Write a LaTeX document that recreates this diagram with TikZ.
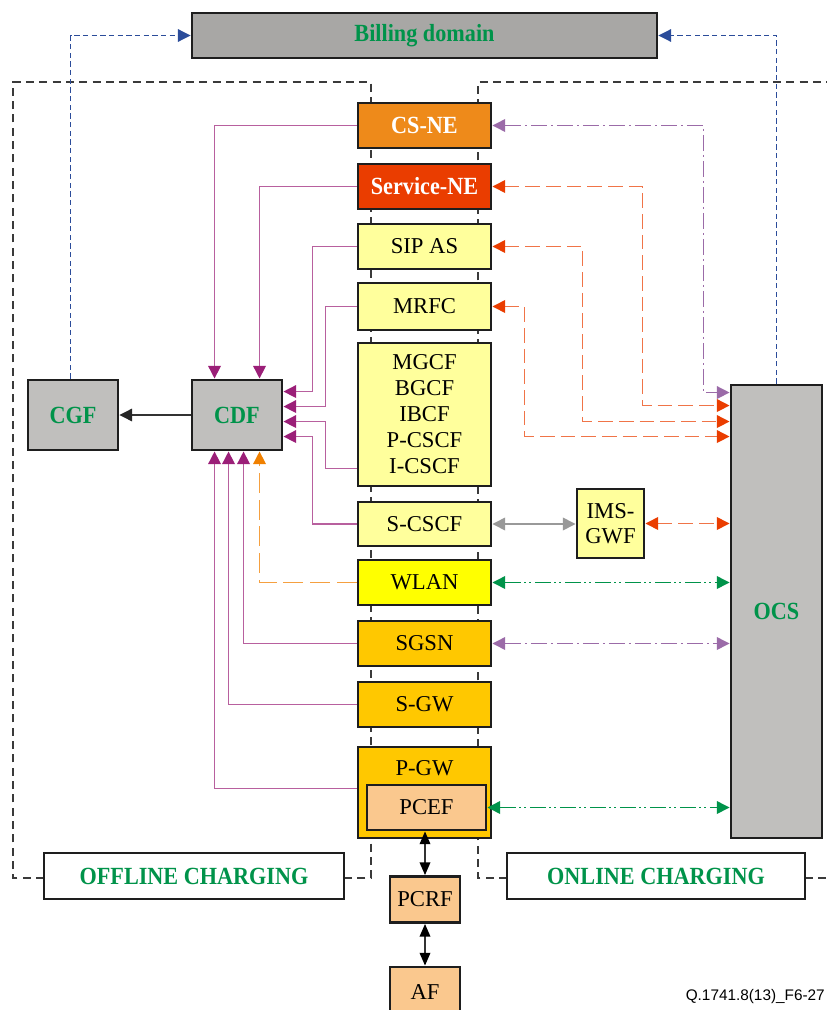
\documentclass[tikz,border=0pt]{standalone}
\usepackage{fontspec}
\setmainfont{Liberation Serif}
\newfontfamily\capsans{Liberation Sans}
\newfontfamily\bcond[FakeStretch=0.9]{Liberation Serif}
\usetikzlibrary{arrows.meta,calc}
\definecolor{gborder}{HTML}{1E1E1E}
\definecolor{billgray}{HTML}{A8A7A5}
\definecolor{boxgray}{HTML}{C0BFBD}
\definecolor{csneor}{HTML}{EE8A1A}
\definecolor{servred}{HTML}{EA3D00}
\definecolor{lyellow}{HTML}{FFFF9C}
\definecolor{yellowb}{HTML}{FFFF00}
\definecolor{goldb}{HTML}{FFC800}
\definecolor{peach}{HTML}{FAC88E}
\definecolor{tgreen}{HTML}{00934A}
\definecolor{cdfline}{HTML}{B8609E}
\definecolor{cdfhead}{HTML}{9B1F78}
\definecolor{ocspurple}{HTML}{9B6BA8}
\definecolor{redline}{HTML}{F07448}
\definecolor{redhead}{HTML}{EA3D00}
\definecolor{blueline}{HTML}{2B4C9A}
\definecolor{wlanline}{HTML}{F5A040}
\definecolor{wlanhead}{HTML}{F08000}
\definecolor{boundc}{HTML}{3A3A3A}
\definecolor{grayarr}{HTML}{999999}
\tikzset{
  box/.style={draw=gborder, line width=2.2pt, inner sep=0pt, align=center,
    font=\fontsize{17}{19.5}\selectfont},
  sz/.style 2 args={minimum width=#1*0.75pt, minimum height=#2*0.75pt},
  grntext/.style={text=tgreen, font=\bcond\bfseries\fontsize{18.5}{20}\selectfont},
  whtext/.style={text=white, font=\bcond\bfseries\fontsize{18.5}{20}\selectfont},
  cdfl/.style={draw=cdfline, line width=1.1pt, -{Triangle[length=9.5pt,width=9.5pt,color=cdfhead]}},
  wlanl/.style={draw=wlanline, line width=1.1pt, dash pattern=on 15pt off 5pt,
    -{Triangle[length=9.5pt,width=9.5pt,color=wlanhead]}},
  ocsp/.style={draw=ocspurple, line width=1pt, dash pattern=on 12pt off 3pt on 1.5pt off 3pt,
    {Triangle[length=9.5pt,width=9.5pt,color=ocspurple]}-{Triangle[length=9.5pt,width=9.5pt,color=ocspurple]}},
  ocsr/.style={draw=redline, line width=1.1pt, dash pattern=on 11pt off 4.5pt,
    {Triangle[length=9.5pt,width=9.5pt,color=redhead]}-{Triangle[length=9.5pt,width=9.5pt,color=redhead]}},
  ocsg/.style={draw=tgreen, line width=1pt, dash pattern=on 12pt off 2.5pt on 1.5pt off 2.5pt on 1.5pt off 2.5pt,
    {Triangle[length=9.5pt,width=9.5pt,color=tgreen]}-{Triangle[length=9.5pt,width=9.5pt,color=tgreen]}},
  bluel/.style={draw=blueline, line width=0.8pt, dash pattern=on 4pt off 2.5pt,
    -{Triangle[length=9.5pt,width=9.5pt,color=blueline]}},
  bound/.style={draw=boundc, line width=0.8pt, dash pattern=on 6pt off 4pt},
  grayl/.style={draw=grayarr, line width=1.1pt,
    {Triangle[length=9.5pt,width=9.5pt,color=grayarr]}-{Triangle[length=9.5pt,width=9.5pt,color=grayarr]}},
  blkl/.style={draw=black!80, line width=1pt,
    {Triangle[length=9.5pt,width=8pt,color=black]}-{Triangle[length=9.5pt,width=8pt,color=black]}},
}
\begin{document}
\begin{tikzpicture}[x=0.75pt,y=-0.75pt]
\useasboundingbox (0,0) rectangle (827,1010);
% region boundaries
\draw[bound] (44,878) -- (13,878) -- (13,82) -- (371,82) -- (371,878) -- (344,878);
\draw[bound] (507,878) -- (478,878) -- (478,82) -- (830,82);
\draw[bound] (805,878) -- (830,878);
% nodes
\node[box, fill=billgray, sz={465}{45}, grntext] (billing) at (424.5,35.5) {Billing domain};
\node[box, fill=csneor, sz={133}{45}, whtext] (csne) at (424.5,125.5) {CS-NE};
\node[box, fill=servred, sz={133}{45}, whtext] (servne) at (424.5,186.5) {Service-NE};
\node[box, fill=lyellow, sz={133}{45}] (sipas) at (424.5,246.5) {SIP AS};
\node[box, fill=lyellow, sz={133}{47}] (mrfc) at (424.5,306.5) {MRFC};
\node[box, fill=lyellow, sz={133}{143}] (mgcf) at (424.5,414.5) {MGCF\\BGCF\\IBCF\\P-CSCF\\I-CSCF};
\node[box, fill=lyellow, sz={133}{44}] (scscf) at (424.5,524) {S-CSCF};
\node[box, fill=yellowb, sz={133}{45}] (wlan) at (424.5,582.5) {WLAN};
\node[box, fill=goldb, sz={133}{45}] (sgsn) at (424.5,643.5) {SGSN};
\node[box, fill=goldb, sz={133}{45}] (sgw) at (424.5,704.5) {S-GW};
\node[box, fill=goldb, sz={133}{91}] (pgw) at (424.5,792.5) {};
\node[font=\fontsize{17}{19.5}\selectfont, inner sep=0pt] (pgwlab) at (424.5,768) {P-GW};
\node[box, fill=peach, sz={119}{45}] (pcef) at (426.5,807.5) {PCEF};
\node[box, fill=peach, sz={70}{46}] (pcrf) at (425,899.5) {PCRF};
\node[box, fill=peach, sz={70}{50}] (af) at (425,992) {AF};
\node[box, fill=boxgray, sz={90}{70}, grntext] (cdf) at (237,415) {CDF};
\node[box, fill=boxgray, sz={90}{70}, grntext] (cgf) at (73,415) {CGF};
\node[box, fill=boxgray, sz={91}{453}, grntext] (ocs) at (776.5,611.5) {OCS};
\node[box, fill=lyellow, sz={67}{69}, font=\fontsize{17}{18.75}\selectfont] (imsgwf) at (610.5,523.5) {IMS-\\GWF};
\node[box, fill=white, sz={300}{46}, grntext] (offline) at (194,876) {OFFLINE CHARGING};
\node[box, fill=white, sz={298}{46}, grntext] (online) at (656,876) {ONLINE CHARGING};
\node[anchor=east, inner sep=0pt, font=\capsans\fontsize{11.5}{13}\selectfont] (caption) at (825,997) {Q.1741.8(13)\_F6-27};
% connectors to CDF
\draw[cdfl] (csne.west) -| ($(cdf.north west)+(24,0)$);
\draw[cdfl] (servne.west) -| ($(cdf.north west)+(69,0)$);
\draw[cdfl] (sipas.west) -- ++(-44,0) |- ($(cdf.north east)+(0,13)$);
\draw[cdfl] (mrfc.west) -- ++(-31,0) |- ($(cdf.north east)+(0,28)$);
\draw[cdfl] ($(mgcf.south west)+(0,-19)$) -- ++(-31,0) |- ($(cdf.north east)+(0,43)$);
\draw[cdfl] (scscf.west) -- ++(-44,0) |- ($(cdf.north east)+(0,58)$);
\draw[wlanl] (wlan.west) -| ($(cdf.south west)+(69,0)$);
\draw[cdfl] (sgsn.west) -| ($(cdf.south west)+(53,0)$);
\draw[cdfl] (sgw.west) -| ($(cdf.south west)+(38,0)$);
\draw[cdfl] ($(pgw.north west)+(0,43)$) -| ($(cdf.south west)+(24,0)$);
\draw[draw=black!80, line width=0.9pt, -{Triangle[length=9.5pt,width=9.5pt,color=black!85]}] (cdf.west) -- (cgf.east);
% connectors to OCS
\draw[ocsp] (csne.east) -- ++(211,0) |- ($(ocs.north west)+(0,9)$);
\draw[ocsr] (servne.east) -- ++(150,0) |- ($(ocs.north west)+(0,22)$);
\draw[ocsr] (sipas.east) -- ++(90,0) |- ($(ocs.north west)+(0,38)$);
\draw[ocsr] (mrfc.east) -- ++(32,0) |- ($(ocs.north west)+(0,53)$);
\draw[grayl] (scscf.east) -- (scscf.east -| imsgwf.west);
\draw[ocsr] (imsgwf.east) -- (imsgwf.east -| ocs.west);
\draw[ocsg] (wlan.east) -- (wlan.east -| ocs.west);
\draw[ocsp] (sgsn.east) -- (sgsn.east -| ocs.west);
\draw[ocsg] (pcef.east) -- (pcef.east -| ocs.west);
\draw[blkl] (pcrf.north |- pcef.south) -- (pcrf.north);
\draw[blkl] (pcrf.south) -- (af.north);
% billing
\draw[bluel] ($(cgf.north west)+(44,0)$) |- (billing.west);
\draw[bluel] (ocs.north) |- (billing.east);
\end{tikzpicture}
\end{document}
